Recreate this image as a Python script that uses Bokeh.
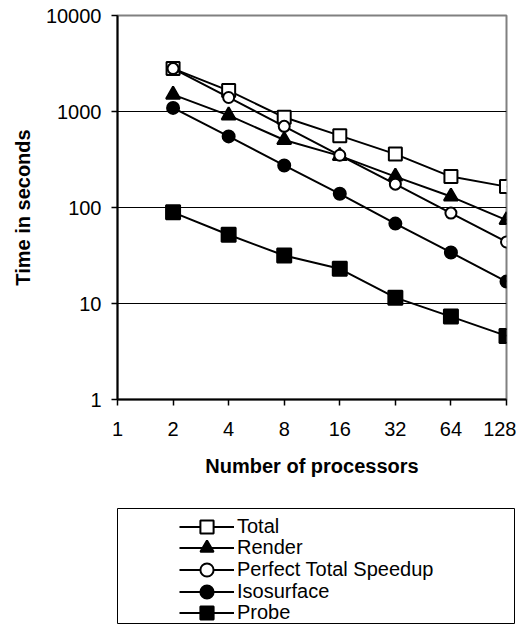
from bokeh.plotting import figure
from bokeh.models import FixedTicker, NumeralTickFormatter, Range1d, Legend, LegendItem, ColumnDataSource
from bokeh.layouts import column
from bokeh.embed import file_html
from bokeh.resources import INLINE

# ---- data ----
x_ticks = [1, 2, 4, 8, 16, 32, 64, 128]
y_ticks = [1, 10, 100, 1000, 10000]
processors = [2, 4, 8, 16, 32, 64, 128]
total = [2800, 1650, 870, 560, 360, 210, 165]
render = [1500, 910, 505, 345, 210, 130, 74]
perfect = [2800, 1400, 700, 350, 175, 87.5, 43.75]
isosurface = [1090, 550, 274, 139, 68, 34, 16.9]
probe = [89, 52, 31.6, 23, 11.5, 7.3, 4.6]

series = [
    ("Total", total, "square", "white", 13),
    ("Render", render, "triangle", "black", 14),
    ("Perfect Total Speedup", perfect, "circle", "white", 11),
    ("Isosurface", isosurface, "circle", "black", 12),
    ("Probe", probe, "square", "black", 14),
]

FONT = "Liberation Sans"

p = figure(width=516, height=508, x_axis_type="log", y_axis_type="log",
           x_range=Range1d(1, 128), y_range=Range1d(1, 10000),
           output_backend="svg", toolbar_location=None,
           min_border_left=117, min_border_top=15, min_border_right=10, min_border_bottom=109)

p.background_fill_color = "white"
p.border_fill_color = "white"
p.outline_line_color = "#808080"
p.outline_line_width = 2

p.xgrid.visible = False
p.ygrid.ticker = FixedTicker(ticks=y_ticks[1:4])
p.ygrid.grid_line_color = "black"
p.ygrid.grid_line_width = 1

p.xaxis.ticker = FixedTicker(ticks=x_ticks)
p.yaxis.ticker = FixedTicker(ticks=y_ticks)
p.xaxis.formatter = NumeralTickFormatter(format="0")
p.yaxis.formatter = NumeralTickFormatter(format="0")

for ax in (p.xaxis, p.yaxis):
    ax.axis_line_color = "black"
    ax.axis_line_width = 2
    ax.major_tick_line_color = "black"
    ax.major_tick_line_width = 1.5
    ax.major_tick_out = 6
    ax.major_tick_in = 0
    ax.minor_tick_out = 0
    ax.minor_tick_in = 0
    ax.major_label_text_font = FONT
    ax.major_label_text_font_size = "20px"
    ax.major_label_text_color = "black"
    ax.axis_label_text_font = FONT
    ax.axis_label_text_font_size = "20px"
    ax.axis_label_text_font_style = "bold"
    ax.axis_label_text_color = "black"

p.xaxis.axis_label = "Number of processors"
p.yaxis.axis_label = "Time in seconds"
p.xaxis.major_label_standoff = 16
p.xaxis.axis_label_standoff = 16
p.yaxis.major_label_standoff = 10
p.yaxis.axis_label_standoff = 9

for name, vals, marker, fill, size in series:
    src = ColumnDataSource(dict(x=processors, y=vals))
    p.line("x", "y", source=src, line_color="black", line_width=2)
    p.scatter("x", "y", source=src, marker=marker, size=size,
              fill_color=fill, line_color="black", line_width=2)

# ---- legend box (separate panel below the chart) ----
p2 = figure(width=524, height=116, x_range=Range1d(-10, -9), y_range=Range1d(-10, -9),
            output_backend="svg", toolbar_location=None,
            x_axis_location=None, y_axis_location=None,
            min_border_left=102, min_border_right=2, min_border_top=0, min_border_bottom=1)
p2.grid.visible = False
p2.outline_line_color = "black"
p2.outline_line_width = 1
p2.border_fill_color = "white"

frame_h = 115
row_top = 18.3      # centre of first legend row below the box top
row_pitch = 21.6
gh = 33
for i, (name, vals, marker, fill, size) in enumerate(series):
    # same data, but outside this panel's ranges: only the legend samples show
    src = ColumnDataSource(dict(x=processors, y=vals))
    lr = p2.line("x", "y", source=src, line_color="black", line_width=2)
    sr = p2.scatter("x", "y", source=src, marker=marker, size=size,
                    fill_color=fill, line_color="black", line_width=2)
    centre = row_top + i * row_pitch
    y_loc = frame_h - (centre + gh / 2)
    lg = Legend(items=[LegendItem(label=name, renderers=[lr, sr])],
                location=(62, round(y_loc, 1)), padding=0, margin=0, spacing=0,
                glyph_width=55, glyph_height=gh, label_height=20, label_standoff=3,
                label_text_font=FONT, label_text_font_size="20px", label_text_color="black",
                border_line_color=None, background_fill_alpha=0)
    p2.add_layout(lg)

layout = column(p, p2, spacing=0)
open("out.html", "w").write(file_html(layout, INLINE))
